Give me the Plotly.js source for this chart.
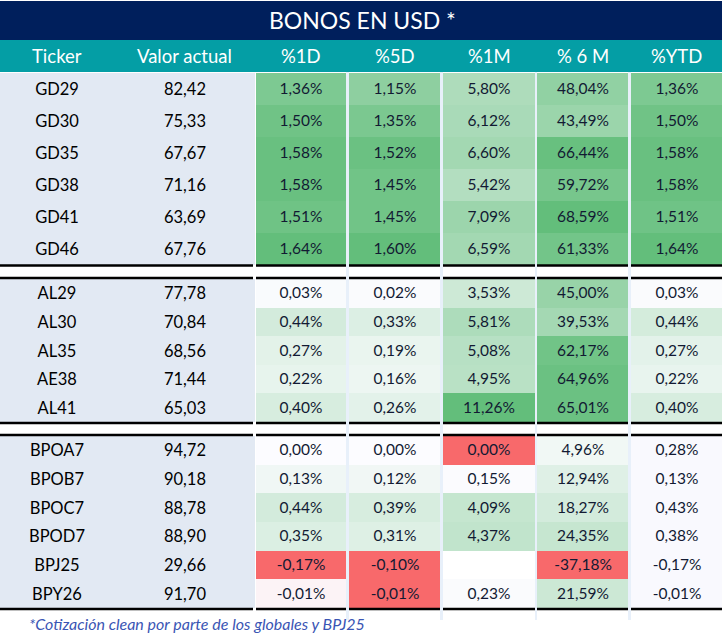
<!DOCTYPE html>
<html>
<head>
<meta charset="utf-8">
<script src="https://cdn.plot.ly/plotly-3.0.1.min.js"></script>
<style>
  html, body { margin: 0; padding: 0; background: #ffffff; }
  #chart { width: 724px; height: 639px; }
</style>
</head>
<body>
<div id="chart"></div>
<script>
// ---- data (three groups of bonds) ----
const headers = ['Ticker', 'Valor actual', '%1D', '%5D', '%1M', '% 6 M', '%YTD'];

// Globales
const tickersGD = ['GD29', 'GD30', 'GD35', 'GD38', 'GD41', 'GD46'];
const priceGD = [82.42, 75.33, 67.67, 71.16, 63.69, 67.76];
const d1GD = [1.36, 1.50, 1.58, 1.58, 1.51, 1.64];
const d5GD = [1.15, 1.35, 1.52, 1.45, 1.45, 1.60];
const m1GD = [5.80, 6.12, 6.60, 5.42, 7.09, 6.59];
const m6GD = [48.04, 43.49, 66.44, 59.72, 68.59, 61.33];
const ytdGD = [1.36, 1.50, 1.58, 1.58, 1.51, 1.64];

// Bonares
const tickersAL = ['AL29', 'AL30', 'AL35', 'AE38', 'AL41'];
const priceAL = [77.78, 70.84, 68.56, 71.44, 65.03];
const d1AL = [0.03, 0.44, 0.27, 0.22, 0.40];
const d5AL = [0.02, 0.33, 0.19, 0.16, 0.26];
const m1AL = [3.53, 5.81, 5.08, 4.95, 11.26];
const m6AL = [45.00, 39.53, 62.17, 64.96, 65.01];
const ytdAL = [0.03, 0.44, 0.27, 0.22, 0.40];

// BOPREAL y otros
const tickersBP = ['BPOA7', 'BPOB7', 'BPOC7', 'BPOD7', 'BPJ25', 'BPY26'];
const priceBP = [94.72, 90.18, 88.78, 88.90, 29.66, 91.70];
const d1BP = [0.00, 0.13, 0.44, 0.35, -0.17, -0.01];
const d5BP = [0.00, 0.12, 0.39, 0.31, -0.10, -0.01];
const m1BP = [0.00, 0.15, 4.09, 4.37, null, 0.23];
const m6BP = [4.96, 12.94, 18.27, 24.35, -37.18, 21.59];
const ytdBP = [0.28, 0.13, 0.43, 0.38, -0.17, -0.01];

const footnote = '*Cotización clean por parte de los globales y BPJ25';

// ---- layout constants (pixels) ----
const W = 724, H = 639;
const RED = '#f8696b', WHITE = '#fcfcff', GREEN = '#63be7b';
const LEFT_BG = '#e2e9f3', GAP_BG = '#e8f0fa', PLAIN = '#f9f9fe';
const FONT = 'Lato, "Open Sans", sans-serif';
const TEXT = '#121a33';

const groups = [
  { tickers: tickersGD, price: priceGD, cols: [d1GD, d5GD, m1GD, m6GD, ytdGD], top: 73, bottom: 265 },
  { tickers: tickersAL, price: priceAL, cols: [d1AL, d5AL, m1AL, m6AL, ytdAL], top: 279, bottom: 422 },
  { tickers: tickersBP, price: priceBP, cols: [d1BP, d5BP, m1BP, m6BP, ytdBP], top: 436, bottom: 608 }
];

const tickerX = [0, 114];
const priceX = [114, 255];
const valueX = [[256, 346], [349, 440], [443, 535], [537, 628], [631, 722]];
const headerCenters = [57, 184.5, 301, 394.5, 489, 582.5, 676.5];

function rowEdges(g) {
  const n = g.tickers.length, step = (g.bottom - g.top) / n;
  const e = [];
  for (let i = 0; i <= n; i++) e.push(g.top + i * step);
  return e;
}

function flat(c) { return [[0, c], [1, c]]; }
function pct(v) { return v === null ? '' : v.toFixed(2).replace('.', ',') + '%'; }

// 3-colour scale red (min) / white (0) / green (max), per column
function scale(zmin, zmax, redEnd) {
  const p = Math.max(-zmin / (zmax - zmin), 0.005);
  const cs = [[0, RED]];
  if (redEnd) cs.push([redEnd, RED]);
  cs.push([p, WHITE], [1, GREEN]);
  return cs;
}

const colRange = groups[0].cols.map((_, c) => {
  // YTD formatting only applies to the first two groups
  const used = c === 4 ? groups.slice(0, 2) : groups;
  const vals = used.flatMap(g => g.cols[c]).filter(v => v !== null);
  return [Math.min(0, ...vals), Math.max(...vals)];
});
const redEnds = [null, 0.054, null, null, null];

const traces = [];
groups.forEach((g, gi) => {
  const y = rowEdges(g);
  const base = {
    type: 'heatmap', y: y, showscale: false, hoverinfo: 'skip',
    textfont: { family: FONT, size: 15.5, color: TEXT }
  };
  traces.push(Object.assign({}, base, {
    x: tickerX, z: g.tickers.map(() => [0]), text: g.tickers.map(t => [t]),
    texttemplate: '%{text}', colorscale: flat(LEFT_BG),
    textfont: { family: FONT, size: 16.5, color: '#000000' }
  }));
  traces.push(Object.assign({}, base, {
    x: priceX, z: g.price.map(v => [v]), texttemplate: '%{z:.2f}',
    colorscale: flat(LEFT_BG), zmin: 0, zmax: 100,
    textfont: { family: FONT, size: 16.5, color: '#000000' }
  }));
  g.cols.forEach((vals, c) => {
    const plain = c === 4 && gi === 2;
    traces.push(Object.assign({}, base, {
      x: valueX[c], z: vals.map(v => [v]), text: vals.map(v => [pct(v)]),
      texttemplate: '%{text}',
      zmin: colRange[c][0], zmax: colRange[c][1],
      colorscale: plain ? flat(PLAIN) : scale(colRange[c][0], colRange[c][1], redEnds[c])
    }));
  });
});

const shapes = [
  { type: 'rect', layer: 'below', x0: 0, x1: 722, y0: 1, y1: 40, fillcolor: '#001f5c', line: { width: 0 } },
  { type: 'rect', layer: 'below', x0: 0, x1: 722, y0: 40, y1: 72, fillcolor: '#049ea5', line: { width: 0 } }
];
valueX.slice(0, 4).forEach((x, i) => {
  shapes.push({ type: 'rect', layer: 'below', x0: x[1], x1: valueX[i + 1][0], y0: 72, y1: 620,
    fillcolor: GAP_BG, line: { width: 0 } });
});
const segs = [[0, 253]].concat(valueX);
[265.5, 278, 423, 435, 609].forEach(yy => {
  segs.forEach(s => {
    shapes.push({ type: 'line', layer: 'above', x0: s[0], x1: s[1], y0: yy, y1: yy,
      line: { color: '#000000', width: 2.5 } });
  });
});

const annotations = [
  { text: 'BONOS EN USD *', x: 362, y: 20, xref: 'x', yref: 'y', showarrow: false,
    font: { family: FONT, size: 23, color: '#ffffff' } }
].concat(headers.map((h, i) => ({
  text: h, x: headerCenters[i], y: 56, xref: 'x', yref: 'y', showarrow: false,
  font: { family: FONT, size: 18.5, color: '#ffffff' }
}))).concat([{
  text: '<i>' + footnote + '</i>', x: 27, y: 623, xref: 'x', yref: 'y', xanchor: 'left',
  showarrow: false, font: { family: FONT, size: 16, color: '#3a55b4' }
}]);

const layout = {
  width: W, height: H,
  margin: { l: 0, r: 0, t: 0, b: 0 },
  paper_bgcolor: '#ffffff', plot_bgcolor: '#ffffff',
  separators: ',.',
  xaxis: { range: [0, W], visible: false, fixedrange: true },
  yaxis: { range: [H, 0], visible: false, fixedrange: true },
  shapes: shapes,
  annotations: annotations,
  showlegend: false
};

Plotly.newPlot('chart', traces, layout, { displayModeBar: false, staticPlot: true });
</script>
</body>
</html>
